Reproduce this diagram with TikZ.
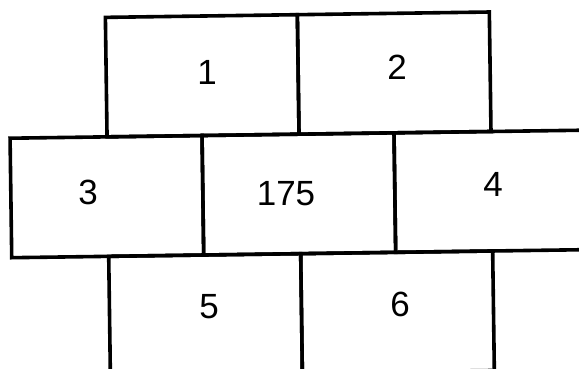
\documentclass[tikz,border=0pt]{standalone}
\usepackage{fontspec}
\setmainfont{Liberation Sans}
\begin{document}
\begin{tikzpicture}[x=1pt,y=-1pt,
  cellbox/.style={draw=black, line width=3.6pt, rectangle, inner sep=0pt,
    minimum width=192pt, minimum height=119.5pt, anchor=north west, transform shape},
  digit/.style={inner sep=0pt, font=\fontsize{35}{40}\selectfont}]
\useasboundingbox (0,0) rectangle (579,368);
\clip (0,0) rectangle (579,368);
\fill[white] (0,0) rectangle (579,368);
\begin{scope}[rotate around={0.8:(290,190)}]
  \node[cellbox] (b1) at (106,13) {};
  \node[cellbox] (b2) at (298,13) {};
  \node[cellbox] (b3) at (9,132.5) {};
  \node[cellbox] (b175) at (201,132.5) {};
  \node[cellbox] (b4) at (393,132.5) {};
  \node[cellbox] (b5) at (106,252) {};
  \node[cellbox] (b6) at (298,252) {};
\end{scope}
\node[digit] (t1) at (207,72) {1};
\node[digit] (t2) at (397,67) {2};
\node[digit] (t3) at (88,192) {3};
\node[digit] (t175) at (286,194) {175};
\node[digit] (t4) at (493,184) {4};
\node[digit] (t5) at (209,307) {5};
\node[digit] (t6) at (400,304) {6};
\end{tikzpicture}
\end{document}
